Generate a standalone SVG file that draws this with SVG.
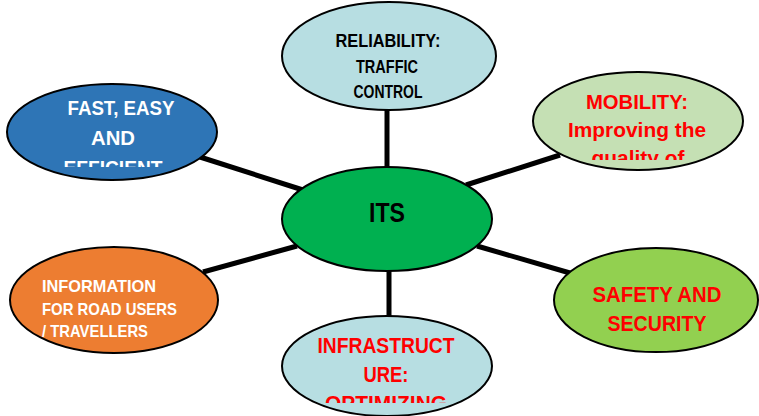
<svg xmlns="http://www.w3.org/2000/svg" width="759" height="416" viewBox="0 0 759 416">
<style>
.node{stroke:#000;stroke-width:2}
.t{font-family:"Liberation Sans",Arial,sans-serif;font-weight:bold;text-anchor:middle}
.w{fill:#fff}.r{fill:#f00}.k{fill:#000}
.conn line{stroke:#000;stroke-width:5;stroke-linecap:butt}
</style>
<defs>
<clipPath id="cFast"><rect x="0" y="80" width="230" height="87"/></clipPath>
<clipPath id="cMob"><rect x="520" y="70" width="239" height="90"/></clipPath>
<clipPath id="cInf"><rect x="270" y="320" width="240" height="83"/></clipPath>
</defs>
<rect width="759" height="416" fill="#fff"/>
<g id="connectors" class="conn">
<line x1="387" y1="110" x2="387" y2="169"/>
<line x1="200" y1="157" x2="303" y2="190"/>
<line x1="466" y1="185" x2="560" y2="155"/>
<line x1="203" y1="272" x2="297" y2="246"/>
<line x1="477" y1="246" x2="570" y2="273"/>
<line x1="389" y1="270" x2="389" y2="319"/>
</g>
<g id="reliability">
<ellipse class="node" cx="389" cy="56" rx="107" ry="54" fill="#B7DEE2"/>
<text class="t k" font-size="19" x="388" y="47" textLength="105" lengthAdjust="spacingAndGlyphs">RELIABILITY:</text>
<text class="t k" font-size="19" x="387" y="73" textLength="62" lengthAdjust="spacingAndGlyphs">TRAFFIC</text>
<text class="t k" font-size="19" x="388" y="98" textLength="69" lengthAdjust="spacingAndGlyphs">CONTROL</text>
</g>
<g id="fast">
<ellipse class="node" cx="112" cy="132" rx="105" ry="48" fill="#2E75B6"/>
<g clip-path="url(#cFast)">
<text class="t w" font-size="21" x="121" y="115" textLength="107" lengthAdjust="spacingAndGlyphs">FAST, EASY</text>
<text class="t w" font-size="21" x="113" y="145" textLength="44" lengthAdjust="spacingAndGlyphs">AND</text>
<text class="t w" font-size="21" x="113" y="175" textLength="99" lengthAdjust="spacingAndGlyphs">EFFICIENT</text>
</g>
</g>
<g id="mobility">
<ellipse class="node" cx="638" cy="121" rx="105" ry="49" fill="#C5E0B4"/>
<g clip-path="url(#cMob)">
<text class="t r" font-size="20" x="637" y="109" textLength="102" lengthAdjust="spacingAndGlyphs">MOBILITY:</text>
<text class="t r" font-size="20" x="637" y="137" textLength="138" lengthAdjust="spacingAndGlyphs">Improving the</text>
<text class="t r" font-size="20" x="638" y="165" textLength="93" lengthAdjust="spacingAndGlyphs">quality of</text>
</g>
</g>
<g id="its">
<ellipse class="node" cx="387" cy="219" rx="105" ry="52" fill="#00B050"/>
<text class="t k" font-size="28" x="387" y="222" textLength="36" lengthAdjust="spacingAndGlyphs">ITS</text>
</g>
<g id="information">
<ellipse class="node" cx="114" cy="300" rx="104" ry="53" fill="#ED7D31"/>
<text class="t w" font-size="17" x="42" y="292" style="text-anchor:start" textLength="114" lengthAdjust="spacingAndGlyphs">INFORMATION</text>
<text class="t w" font-size="17" x="42" y="315" style="text-anchor:start" textLength="135" lengthAdjust="spacingAndGlyphs">FOR ROAD USERS</text>
<text class="t w" font-size="17" x="42" y="337" style="text-anchor:start" textLength="106" lengthAdjust="spacingAndGlyphs">/ TRAVELLERS</text>
</g>
<g id="safety">
<ellipse class="node" cx="656" cy="300" rx="102" ry="52" fill="#92D050"/>
<text class="t r" font-size="22" x="657" y="302" textLength="129" lengthAdjust="spacingAndGlyphs">SAFETY AND</text>
<text class="t r" font-size="22" x="657" y="331" textLength="99" lengthAdjust="spacingAndGlyphs">SECURITY</text>
</g>
<g id="infrastructure">
<ellipse class="node" cx="387" cy="366" rx="105" ry="50" fill="#B7DEE2"/>
<g clip-path="url(#cInf)">
<text class="t r" font-size="22" x="386" y="353" textLength="137" lengthAdjust="spacingAndGlyphs">INFRASTRUCT</text>
<text class="t r" font-size="22" x="386" y="382" textLength="45" lengthAdjust="spacingAndGlyphs">URE:</text>
<text class="t r" font-size="22" x="386" y="411" textLength="122" lengthAdjust="spacingAndGlyphs">OPTIMIZING</text>
</g>
</g>
</svg>
